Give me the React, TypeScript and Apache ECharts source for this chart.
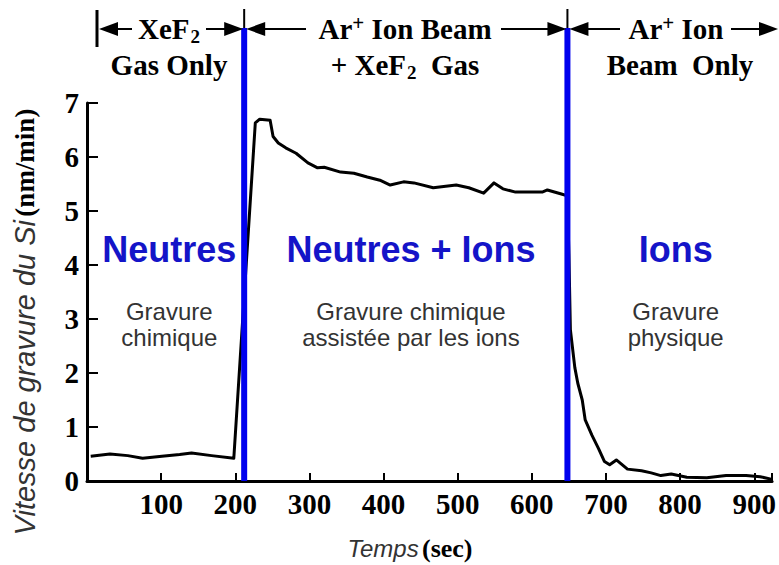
import React, { useEffect, useRef } from 'react';
import * as echarts from 'echarts';

// ---- data ----
const timeSec = [5, 31, 55, 75, 101, 125, 141, 168, 198, 227, 233, 247, 251, 258, 268, 282, 298, 311, 320, 342, 360, 378, 395, 409, 427, 441, 467, 498, 515, 535, 549, 561, 578, 614, 621, 641, 648, 650, 652, 658, 662, 668, 672, 681, 690, 698, 705, 714, 729, 748, 761, 774, 788, 809, 836, 862, 889, 908, 924];
const etchRate = [0.46, 0.50, 0.47, 0.42, 0.46, 0.49, 0.52, 0.47, 0.42, 6.63, 6.70, 6.68, 6.38, 6.26, 6.17, 6.07, 5.89, 5.80, 5.81, 5.72, 5.70, 5.63, 5.57, 5.48, 5.54, 5.52, 5.43, 5.48, 5.43, 5.33, 5.52, 5.41, 5.35, 5.35, 5.39, 5.31, 5.28, 4.2, 2.8, 2.1, 1.81, 1.5, 1.13, 0.85, 0.6, 0.36, 0.30, 0.39, 0.22, 0.19, 0.15, 0.10, 0.13, 0.07, 0.06, 0.10, 0.10, 0.08, 0.03];
const phaseBoundaries = [212, 648];
const phaseCentersSec = [111, 437, 794];
const phaseTitles = ['Neutres', 'Neutres + Ions', 'Ions'];
const phaseSubtitles = ['Gravure\nchimique', 'Gravure chimique\nassistée par les ions', 'Gravure\nphysique'];

const serif = "'Liberation Serif', 'Times New Roman', serif";
const sans = "'Liberation Sans', Arial, sans-serif";

const headRich = {
  h: { fontFamily: serif, fontWeight: 'bold', fontSize: 29, lineHeight: 33, fill: '#000' },
  s: { fontFamily: serif, fontWeight: 'bold', fontSize: 19, lineHeight: 19, verticalAlign: 'bottom', fill: '#000', padding: [0, 0, 0, 1] },
  p: { fontFamily: serif, fontWeight: 'bold', fontSize: 21, lineHeight: 21, verticalAlign: 'top', fill: '#000' },
};

export default function App() {
  const ref = useRef<HTMLDivElement>(null);
  useEffect(() => {
    if (!ref.current) return;
    const chart = echarts.init(ref.current, undefined, { renderer: 'svg' });
    chart.setOption({
      animation: false,
      backgroundColor: '#ffffff',
      grid: { left: 87, right: 0, top: 103, bottom: 84, containLabel: false },
      xAxis: {
        type: 'value', min: 0, max: 924, interval: 100,
        axisLine: { lineStyle: { color: '#000', width: 3 } },
        axisTick: { inside: true, length: 8, lineStyle: { color: '#000', width: 2 } },
        axisLabel: {
          formatter: (v: number) => (v === 0 || v % 100 !== 0 ? '' : String(v)),
          fontFamily: serif, fontWeight: 'bold', fontSize: 29, color: '#000', margin: 8,
        },
        splitLine: { show: false },
      },
      yAxis: {
        type: 'value', min: 0, max: 7, interval: 1,
        axisLine: { lineStyle: { color: '#000', width: 3 } },
        axisTick: { inside: true, length: 11, lineStyle: { color: '#000', width: 2 } },
        axisLabel: { fontFamily: serif, fontWeight: 'bold', fontSize: 29, color: '#000', margin: 8 },
        splitLine: { show: false },
      },
      series: [{
        type: 'line',
        data: timeSec.map((t, i) => [t, etchRate[i]]),
        showSymbol: false,
        lineStyle: { color: '#000', width: 3, join: 'round' },
        z: 2,
      }],
    });

    const px = (t: number) => chart.convertToPixel({ xAxisIndex: 0 }, t) as number;
    const py = (v: number) => chart.convertToPixel({ yAxisIndex: 0 }, v) as number;
    const y0 = py(0);
    const b0 = px(phaseBoundaries[0]);
    const b1 = px(phaseBoundaries[1]);
    const ay = 29;
    const gr: any[] = [];
    const line = (x1: number, y1: number, x2: number, y2: number, w = 2, c = '#000') =>
      gr.push({ type: 'line', z: 100, shape: { x1, y1, x2, y2 }, style: { stroke: c, lineWidth: w } });
    const arrowL = (x: number) => gr.push({ type: 'polygon', z: 100, shape: { points: [[x, ay], [x + 19, ay - 7], [x + 19, ay + 7]] }, style: { fill: '#000' } });
    const arrowR = (x: number) => gr.push({ type: 'polygon', z: 100, shape: { points: [[x, ay], [x - 19, ay - 7], [x - 19, ay + 7]] }, style: { fill: '#000' } });
    const text = (x: number, y: number, t: string, extra: any = {}) =>
      gr.push({ type: 'text', z: 100, x, y, style: { text: t, align: 'center', verticalAlign: 'middle', ...extra } });

    // blue phase boundaries
    [b0, b1].forEach((bx) => {
      line(bx, 9, bx, 30, 2);
      line(bx, 28, bx, y0, 6, '#0000ee');
    });

    // header arrows
    line(97, 10, 97, 47, 3);
    arrowL(99); line(116, ay, 132, ay);
    text(169, ay, '{h|XeF}{s|2}', { rich: headRich });
    line(206, ay, b0 - 16, ay); arrowR(b0 - 1);

    arrowL(b0 + 2); line(b0 + 18, ay, 306, ay);
    text(405, ay, '{h|Ar}{p|+}{h| Ion Beam}', { rich: headRich });
    line(501, ay, b1 - 16, ay); arrowR(b1 - 1);

    arrowL(b1 + 2); line(b1 + 18, ay, 620, ay);
    text(676, ay, '{h|Ar}{p|+}{h| Ion}', { rich: headRich });
    line(731, ay, 762, ay); arrowR(778);

    text(169, 65, '{h|Gas Only}', { rich: headRich });
    text(405, 65, '{h|+ XeF}{s|2}{h|  Gas}', { rich: headRich });
    text(680, 65, '{h|Beam  Only}', { rich: headRich });

    // phase titles
    phaseTitles.forEach((t, i) => {
      const cx = px(phaseCentersSec[i]);
      text(cx, 249, t, { fontFamily: sans, fontWeight: 'bold', fontSize: 36, fill: '#1414c8' });
      text(cx, 324, phaseSubtitles[i], { fontFamily: sans, fontSize: 24, lineHeight: 26, fill: '#333' });
    });

    // axis names
    gr.push({
      type: 'text', z: 100, x: 25, y: 322, rotation: Math.PI / 2,
      style: {
        text: '{i|Vitesse de gravure du Si} {b|(nm/min)}', align: 'center', verticalAlign: 'middle',
        rich: {
          i: { fontFamily: sans, fontStyle: 'italic', fontSize: 29, fill: '#333' },
          b: { fontFamily: serif, fontWeight: 'bold', fontSize: 27, fill: '#000' },
        },
      },
    });
    gr.push({
      type: 'text', z: 100, x: 410, y: 548,
      style: {
        text: '{i|Temps} {b|(sec)}', align: 'center', verticalAlign: 'middle',
        rich: {
          i: { fontFamily: sans, fontStyle: 'italic', fontSize: 24, fill: '#333' },
          b: { fontFamily: serif, fontWeight: 'bold', fontSize: 26, fill: '#000' },
        },
      },
    });

    chart.setOption({ graphic: gr });
    return () => chart.dispose();
  }, []);
  return <div ref={ref} style={{ position: 'fixed', left: 0, top: 0, width: 779, height: 565 }} />;
}
